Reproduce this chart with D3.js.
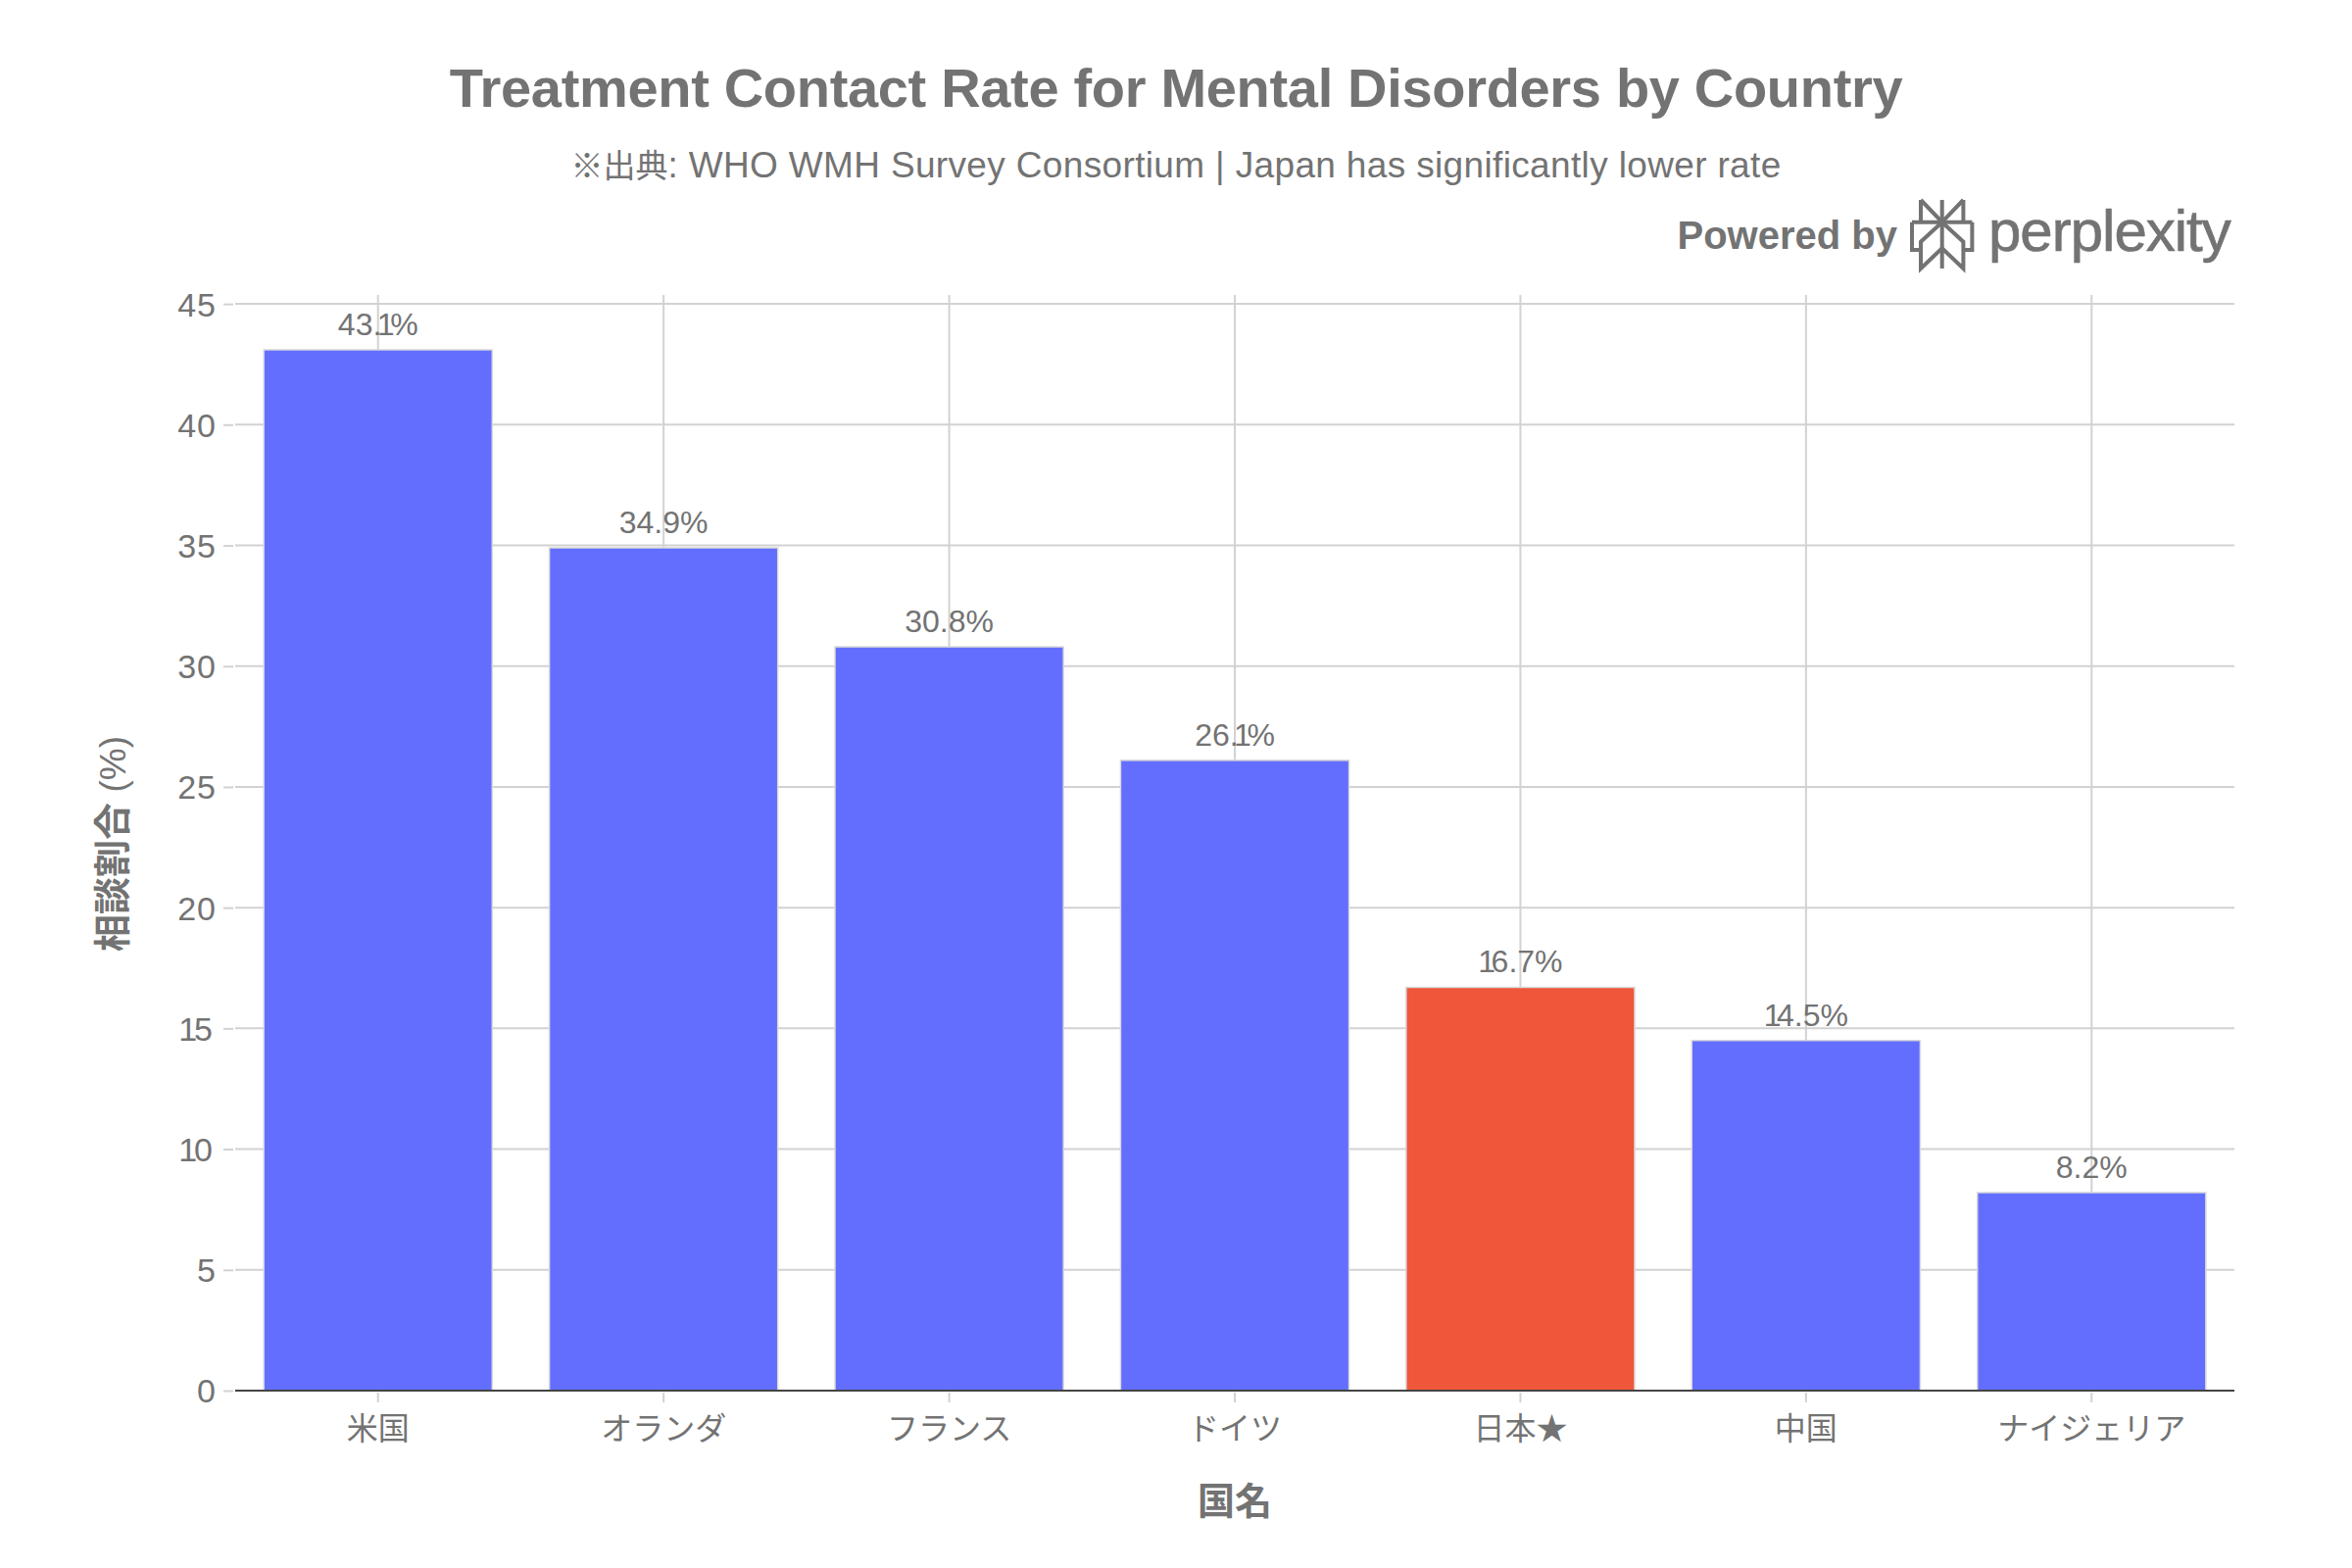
<!DOCTYPE html>
<html><head><meta charset="utf-8">
<script src="https://d3js.org/d3.v7.min.js"></script>
<style>html,body{margin:0;padding:0;background:#fff}svg{display:block}text{font-family:"Liberation Sans","Noto Sans CJK JP",sans-serif;fill:#737373}</style>
</head><body><div id="chart"></div>
<script>
const categories=["米国","オランダ","フランス","ドイツ","日本★","中国","ナイジェリア"];
const rates=[43.1,34.9,30.8,26.1,16.7,14.5,8.2];
const highlighted=["日本★"];
const yTicks=[0,5,10,15,20,25,30,35,40,45];
const W=2400,H=1600;
const svg=d3.select("#chart").append("svg").attr("width",W).attr("height",H).attr("viewBox",`0 0 ${W} ${H}`);
const x=d3.scaleBand().domain(categories).range([240,2280]).paddingInner(.2).paddingOuter(.1);
const y=d3.scaleLinear().domain([0,45.37]).range([1419,301]);
const grid="#d2d2d2",ink="#737373";
// the reference face has a narrow figure one: tighten it, the text stays whole
const narrowOnes=(s,k)=>String(s).split("").map(c=>c==="1"?`<tspan dx="${-k}" letter-spacing="${-k}">1</tspan>`:c).join("");
// grid
svg.append("g").selectAll("line").data(yTicks.filter(d=>d>0)).join("line")
 .attr("x1",240).attr("x2",2280).attr("y1",d=>y(d)).attr("y2",d=>y(d)).attr("stroke",grid).attr("stroke-width",2);
svg.append("g").selectAll("line").data(categories).join("line")
 .attr("x1",d=>x(d)+x.bandwidth()/2).attr("x2",d=>x(d)+x.bandwidth()/2).attr("y1",301).attr("y2",1419).attr("stroke",grid).attr("stroke-width",2);
// bars
svg.append("g").selectAll("rect").data(categories).join("rect")
 .attr("x",d=>x(d)).attr("width",x.bandwidth())
 .attr("y",(d,i)=>y(rates[i])).attr("height",(d,i)=>y(0)-y(rates[i]))
 .attr("fill",d=>highlighted.includes(d)?"#F0563A":"#636EFF")
 .attr("stroke","#d9d9d9").attr("stroke-width",1.5);
// value labels
svg.append("g").selectAll("text").data(categories).join("text")
 .attr("x",(d,i)=>x(d)+x.bandwidth()/2+(rates[i].toFixed(1)[0]==="1"?4.5:0)).attr("y",(d,i)=>y(rates[i])-15)
 .attr("text-anchor","middle").attr("font-size",32)
 .html((d,i)=>narrowOnes(rates[i].toFixed(1)+"%",4.5));
// axes
const xAxis=svg.append("g").attr("transform","translate(0,1419)").call(d3.axisBottom(x).tickSize(0).tickPadding(0));
xAxis.select(".domain").remove();
xAxis.selectAll(".tick line").attr("y1",2).attr("y2",12).attr("stroke",grid).attr("stroke-width",2);
xAxis.selectAll(".tick text").attr("y",38).attr("dy",".36em").attr("font-size",32).style("font-family",'"Noto Sans CJK JP"').attr("fill",ink);
const yAxis=svg.append("g").attr("transform","translate(240,0)").call(d3.axisLeft(y).tickValues(yTicks).tickSize(0).tickFormat(d3.format("d")));
yAxis.select(".domain").remove();
yAxis.selectAll(".tick line").attr("x1",-12).attr("x2",-2).attr("stroke",grid).attr("stroke-width",2);
yAxis.selectAll(".tick text").attr("x",-19).attr("dy",".35em").attr("font-size",34).attr("letter-spacing",1).attr("fill",ink)
 .html(d=>narrowOnes(d,3));
svg.append("line").attr("x1",240).attr("x2",2280).attr("y1",1419).attr("y2",1419).attr("stroke","#444").attr("stroke-width",2);
// titles
svg.append("text").attr("x",1200).attr("y",109).attr("text-anchor","middle").attr("font-size",56).attr("font-weight",700).attr("letter-spacing",-.32).text("Treatment Contact Rate for Mental Disorders by Country");
const sub=svg.append("text").attr("x",1200).attr("y",181).attr("text-anchor","middle").attr("font-size",37).attr("letter-spacing",.35);
sub.append("tspan").attr("font-size",33).attr("letter-spacing",0).text("※出典");
sub.append("tspan").text(": WHO WMH Survey Consortium | Japan has significantly lower rate");
svg.append("text").attr("x",1260).attr("y",1545).attr("text-anchor","middle").attr("font-size",38).attr("font-weight",700).text("国名");
const yt=svg.append("text").attr("transform","translate(128,861) rotate(-90)").attr("text-anchor","middle").attr("font-size",38).attr("font-weight",700);
yt.append("tspan").text("相談割合 ");
yt.append("tspan").attr("font-weight",400).attr("font-size",37).text("(%)");
// brand
svg.append("text").attr("x",1936).attr("y",254).attr("text-anchor","end").attr("font-size",40).attr("font-weight",700).text("Powered by");
svg.append("text").attr("x",2029).attr("y",256).attr("font-size",60).attr("letter-spacing",-1).attr("stroke",ink).attr("stroke-width",.7).text("perplexity");
const logo=svg.append("g").attr("fill","none").attr("stroke",ink).attr("stroke-width",4).attr("transform","translate(1981.7,195)");
["M0,9V79","M-21.7,9V31.7M21.7,9V31.7","M-21.7,9L0,31.7L21.7,9","M-30.7,31.7H30.7","M-30.7,31.7V60H-21.7M30.7,31.7V60H21.7","M0,31.7L-21.7,51.7V79L0,58.3L21.7,79V51.7Z"].forEach(p=>logo.append("path").attr("d",p));
</script></body></html>
